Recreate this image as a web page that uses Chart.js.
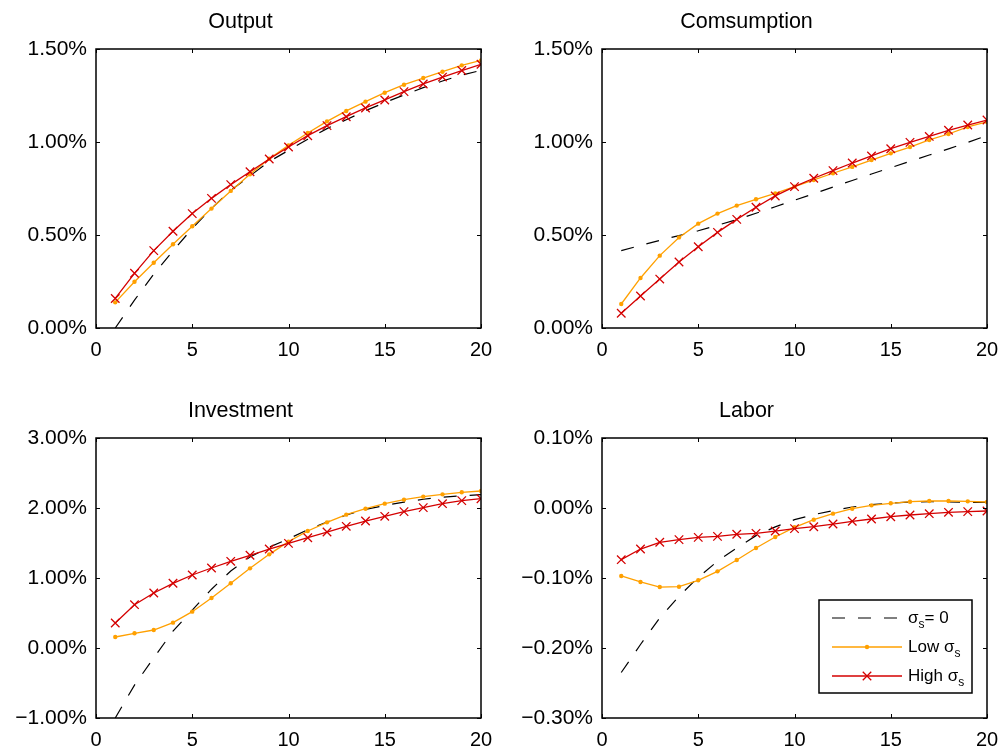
<!DOCTYPE html>
<html><head><meta charset="utf-8">
<script src="https://cdn.jsdelivr.net/npm/chart.js@4.4.1/dist/chart.umd.min.js"></script>
<style>
html,body{margin:0;padding:0;background:#fff;width:1007px;height:755px;overflow:hidden;position:relative}
canvas{position:absolute}
</style></head><body>
<canvas id="c1" width="506" height="364" style="left:0px;top:0px"></canvas>
<canvas id="c2" width="506" height="364" style="left:506px;top:0px"></canvas>
<canvas id="c3" width="506" height="365" style="left:0px;top:389px"></canvas>
<canvas id="c4" width="506" height="365" style="left:506px;top:389px"></canvas>
<script>
// ---------- data ----------
const periods = [1,2,3,4,5,6,7,8,9,10,11,12,13,14,15,16,17,18,19,20];
const panelTitles = ['Output', 'Comsumption', 'Investment', 'Labor'];
const seriesLabels = ['σ_s= 0', 'Low σ_s', 'High σ_s'];
const xTickValues = [0, 5, 10, 15, 20];

const outputSigma0 = [0.00, 0.15, 0.29, 0.415, 0.535, 0.643, 0.74, 0.818, 0.895, 0.955, 1.015, 1.072, 1.12, 1.168, 1.212, 1.253, 1.292, 1.328, 1.36, 1.385];
const outputLow    = [0.138, 0.249, 0.351, 0.450, 0.547, 0.642, 0.737, 0.826, 0.910, 0.982, 1.048, 1.111, 1.167, 1.217, 1.265, 1.308, 1.344, 1.378, 1.412, 1.439];
const outputHigh   = [0.159, 0.294, 0.416, 0.520, 0.615, 0.697, 0.771, 0.840, 0.909, 0.973, 1.034, 1.088, 1.136, 1.183, 1.226, 1.271, 1.312, 1.349, 1.384, 1.418];

const consSigma0 = [0.416, 0.444, 0.471, 0.497, 0.523, 0.552, 0.583, 0.617, 0.652, 0.687, 0.722, 0.758, 0.793, 0.828, 0.862, 0.896, 0.930, 0.963, 0.998, 1.035];
const consLow    = [0.129, 0.269, 0.389, 0.487, 0.561, 0.615, 0.658, 0.692, 0.724, 0.760, 0.796, 0.832, 0.866, 0.903, 0.939, 0.973, 1.011, 1.043, 1.081, 1.108];
const consHigh   = [0.079, 0.172, 0.263, 0.355, 0.437, 0.514, 0.584, 0.649, 0.710, 0.760, 0.805, 0.846, 0.887, 0.925, 0.964, 0.998, 1.030, 1.063, 1.091, 1.118];

const invSigma0 = [-1.00, -0.53, -0.14, 0.24, 0.54, 0.84, 1.10, 1.30, 1.44, 1.56, 1.69, 1.80, 1.90, 1.98, 2.035, 2.085, 2.125, 2.155, 2.175, 2.19];
const invLow    = [0.157, 0.210, 0.257, 0.362, 0.519, 0.714, 0.924, 1.138, 1.338, 1.519, 1.671, 1.795, 1.905, 1.990, 2.062, 2.119, 2.162, 2.195, 2.224, 2.243];
const invHigh   = [0.357, 0.619, 0.786, 0.924, 1.043, 1.143, 1.238, 1.324, 1.414, 1.495, 1.576, 1.657, 1.738, 1.814, 1.881, 1.948, 2.005, 2.062, 2.105, 2.133];

const laborSigma0 = [-0.235, -0.195, -0.157, -0.126, -0.099, -0.076, -0.057, -0.0395, -0.027, -0.0167, -0.0095, -0.0038, 0.0014, 0.0048, 0.007, 0.0086, 0.009, 0.0086, 0.008, 0.008];
const laborLow    = [-0.0971, -0.1057, -0.1129, -0.1124, -0.1033, -0.0905, -0.0743, -0.0571, -0.0414, -0.0276, -0.0167, -0.0081, -0.001, 0.0038, 0.0067, 0.009, 0.010, 0.010, 0.0095, 0.0086];
const laborHigh   = [-0.0738, -0.0586, -0.049, -0.0452, -0.042, -0.0405, -0.0376, -0.0362, -0.0329, -0.0295, -0.0267, -0.0229, -0.019, -0.0157, -0.0124, -0.010, -0.0081, -0.0062, -0.0052, -0.0043];

// y-axis ranges [min, max, step] in percent
const outputRange = [0, 1.5, 0.5];
const consRange   = [0, 1.5, 0.5];
const invRange    = [-1, 3, 1];
const laborRange  = [-0.3, 0.1, 0.1];

// ---------- styling ----------
const FONT = "'Liberation Sans', Arial, Helvetica, sans-serif";
Chart.defaults.font.family = FONT;
Chart.defaults.color = '#000';
const COL_S0 = '#000000', COL_LOW = '#ffa000', COL_HIGH = '#d40000';

function pts(arr) { return periods.map((p, i) => ({x: p, y: arr[i]})); }

function makeDatasets(s0, low, high) {
  return [
    { label: seriesLabels[0], data: pts(s0), borderColor: COL_S0, borderWidth: 1.2, borderDash: [13, 13],
      pointRadius: 0, order: 3, tension: 0 },
    { label: seriesLabels[1], data: pts(low), borderColor: COL_LOW, borderWidth: 1.3,
      pointStyle: 'circle', pointRadius: 2.2, pointBackgroundColor: COL_LOW, pointBorderWidth: 0, order: 2, tension: 0 },
    { label: seriesLabels[2], data: pts(high), borderColor: COL_HIGH, borderWidth: 1.3,
      pointStyle: 'crossRot', pointRadius: 6, pointBorderColor: COL_HIGH, pointBorderWidth: 1.3, order: 1, tension: 0 }
  ];
}

function fmtPct(v) {
  let r = Math.round(v * 100) / 100;
  if (Math.abs(r) < 1e-9) r = 0;
  return r.toFixed(2).replace('-', '\u2212') + '%';
}

function drawLegend(chart) {
  const {ctx, chartArea: a} = chart;
  const left = a.right - 168, top = a.bottom - 118, w = 153, h = 93;
  ctx.save();
  ctx.fillStyle = '#fff';
  ctx.fillRect(left, top, w, h);
  ctx.lineWidth = 1.5; ctx.strokeStyle = '#000'; ctx.setLineDash([]);
  ctx.strokeRect(left, top, w, h);
  const rows = [18, 47, 76];
  chart.data.datasets.forEach((ds, i) => {
    const yy = top + rows[i];
    ctx.save();
    ctx.strokeStyle = ds.borderColor; ctx.lineWidth = ds.borderWidth;
    ctx.setLineDash(ds.borderDash || []);
    ctx.beginPath(); ctx.moveTo(left + 13, yy); ctx.lineTo(left + 83, yy); ctx.stroke();
    ctx.restore();
    const mx = left + 48;
    if (ds.pointRadius > 0) {
      if (ds.pointStyle === 'circle') {
        ctx.fillStyle = ds.pointBackgroundColor;
        ctx.beginPath(); ctx.arc(mx, yy, ds.pointRadius, 0, Math.PI * 2); ctx.fill();
      } else if (ds.pointStyle === 'crossRot') {
        const d = ds.pointRadius * Math.SQRT1_2;
        ctx.strokeStyle = ds.pointBorderColor; ctx.lineWidth = ds.pointBorderWidth; ctx.setLineDash([]);
        ctx.beginPath();
        ctx.moveTo(mx - d, yy - d); ctx.lineTo(mx + d, yy + d);
        ctx.moveTo(mx - d, yy + d); ctx.lineTo(mx + d, yy - d);
        ctx.stroke();
      }
    }
    // label with subscript: text after '_' (one char) is subscript
    const parts = ds.label.split('_');
    let tx = left + 89;
    ctx.fillStyle = '#000';
    ctx.textBaseline = 'alphabetic'; ctx.textAlign = 'left';
    ctx.font = '17px ' + FONT;
    ctx.fillText(parts[0], tx, yy + 5);
    tx += ctx.measureText(parts[0]).width;
    if (parts.length > 1) {
      const sub = parts[1].charAt(0), rest = parts[1].slice(1);
      ctx.font = '12px ' + FONT;
      ctx.fillText(sub, tx, yy + 10);
      tx += ctx.measureText(sub).width;
      ctx.font = '17px ' + FONT;
      ctx.fillText(rest, tx, yy + 5);
    }
  });
  ctx.restore();
}

const framePlugin = {
  id: 'frame',
  afterDraw(chart, args, opts) {
    const {ctx, chartArea: a, scales: {x, y}} = chart;
    ctx.save();
    ctx.strokeStyle = '#000'; ctx.lineWidth = 1; ctx.setLineDash([]);
    const L = 4;
    ctx.beginPath();
    x.ticks.forEach(t => {
      const px = Math.round(x.getPixelForValue(t.value)) + 0.5;
      ctx.moveTo(px, a.bottom); ctx.lineTo(px, a.bottom - L);
      ctx.moveTo(px, a.top); ctx.lineTo(px, a.top + L);
    });
    y.ticks.forEach(t => {
      const py = Math.round(y.getPixelForValue(t.value)) + 0.5;
      ctx.moveTo(a.left, py); ctx.lineTo(a.left + L, py);
      ctx.moveTo(a.right, py); ctx.lineTo(a.right - L, py);
    });
    ctx.stroke();
    ctx.lineWidth = 1.5;
    ctx.strokeRect(a.left, a.top, a.right - a.left, a.bottom - a.top);
    ctx.restore();
    if (opts && opts.legend) drawLegend(chart);
  }
};

function makeChart(id, title, range, s0, low, high, showLegend) {
  new Chart(document.getElementById(id), {
    type: 'line',
    data: { datasets: makeDatasets(s0, low, high) },
    plugins: [framePlugin],
    options: {
      responsive: false,
      animation: false,
      events: [],
      layout: { padding: { left: 0, right: 25, top: 0, bottom: 0 } },
      plugins: {
        legend: { display: false },
        tooltip: { enabled: false },
        title: { display: true, text: title, color: '#000',
                 font: { size: 21.5, weight: 'normal', lineHeight: '25px' },
                 padding: { top: 10, bottom: 14 } },
        frame: { legend: showLegend }
      },
      scales: {
        x: {
          type: 'linear', min: xTickValues[0], max: xTickValues[xTickValues.length - 1],
          afterBuildTicks: s => { s.ticks = xTickValues.map(v => ({value: v})); },
          grid: { display: false, drawTicks: false },
          border: { display: false },
          ticks: { font: { size: 20 }, color: '#000', padding: 10, maxRotation: 0, autoSkip: false,
                   callback: v => String(v) },
          afterFit: s => { s.height = 36; }
        },
        y: {
          type: 'linear', min: range[0], max: range[1],
          grid: { display: false, drawTicks: false },
          border: { display: false },
          ticks: { stepSize: range[2], font: { size: 21 }, color: '#000', padding: 9, autoSkip: false,
                   callback: v => fmtPct(v) },
          afterFit: s => { s.width = 96; }
        }
      }
    }
  });
}

makeChart('c1', panelTitles[0], outputRange, outputSigma0, outputLow, outputHigh, false);
makeChart('c2', panelTitles[1], consRange, consSigma0, consLow, consHigh, false);
makeChart('c3', panelTitles[2], invRange, invSigma0, invLow, invHigh, false);
makeChart('c4', panelTitles[3], laborRange, laborSigma0, laborLow, laborHigh, true);
</script>
</body></html>
